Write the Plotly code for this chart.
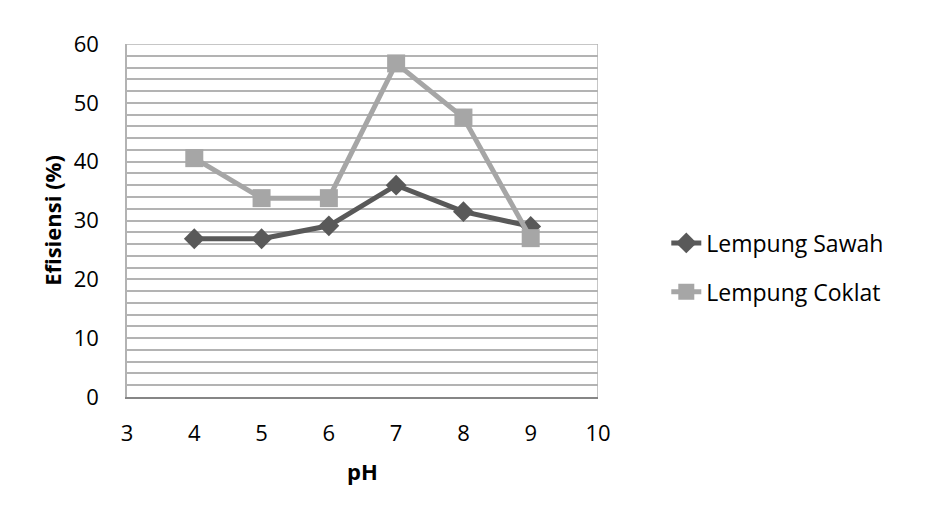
import plotly.graph_objects as go

ph = [4, 5, 6, 7, 8, 9]
sawah = [26.9, 26.9, 29.1, 36.0, 31.5, 29.0]
coklat = [40.6, 33.8, 33.8, 56.7, 47.5, 27.0]
x_ticks = [3, 4, 5, 6, 7, 8, 9, 10]
y_ticks = [0, 10, 20, 30, 40, 50, 60]

FONT = "Open Sans"
FS = 22

fig = go.Figure()
fig.add_trace(go.Scatter(
    x=ph, y=sawah, name="Lempung Sawah", mode="lines+markers",
    legendgroup="a",
    line=dict(color="#595959", width=5),
    marker=dict(symbol="diamond", size=16, color="#595959"),
    cliponaxis=False,
))
fig.add_trace(go.Scatter(
    x=ph, y=coklat, name="Lempung Coklat", mode="lines+markers",
    legendgroup="b",
    line=dict(color="#A6A6A6", width=5),
    marker=dict(symbol="square", size=18, color="#A6A6A6"),
    cliponaxis=False,
))

fig.update_layout(
    width=928, height=509,
    margin=dict(l=127, r=330, t=44, b=112),
    paper_bgcolor="white", plot_bgcolor="white",
    font=dict(family=FONT, size=FS, color="#000000"),
    showlegend=True,
    legend=dict(x=1.145, y=0.367, xanchor="left", yanchor="middle",
                font=dict(family=FONT, size=23, color="#000000"),
                tracegroupgap=16, bgcolor="rgba(0,0,0,0)"),
    xaxis=dict(
        range=[3, 10], tickvals=x_ticks, ticktext=[str(v) for v in x_ticks],
        showgrid=False, zeroline=False,
        showline=True, linecolor="#868686", linewidth=1.5,
        ticks="", tickfont=dict(size=FS), ticklabelstandoff=16,
        title=dict(text="<b>pH</b>", font=dict(size=FS), standoff=18),
    ),
    yaxis=dict(
        range=[0, 60], tickvals=y_ticks, ticktext=[str(v) for v in y_ticks],
        showgrid=True, gridcolor="#B3B3B3", gridwidth=1.5,
        minor=dict(dtick=2, showgrid=True, gridcolor="#B3B3B3", gridwidth=1.5),
        zeroline=False,
        showline=True, linecolor="#B3B3B3", linewidth=1.5, mirror=False,
        ticks="", tickfont=dict(size=FS), ticklabelstandoff=22,
        title=dict(text="<b>Efisiensi (%)</b>", font=dict(size=FS), standoff=6),
    ),
)
fig.add_shape(type="line", xref="x", yref="paper", x0=10, x1=10, y0=0, y1=1,
              line=dict(color="#B3B3B3", width=1.5))
fig.add_shape(type="line", xref="paper", yref="y", x0=0, x1=1, y0=60, y1=60,
              line=dict(color="#B3B3B3", width=1.5))

fig.write_html("out.html")
